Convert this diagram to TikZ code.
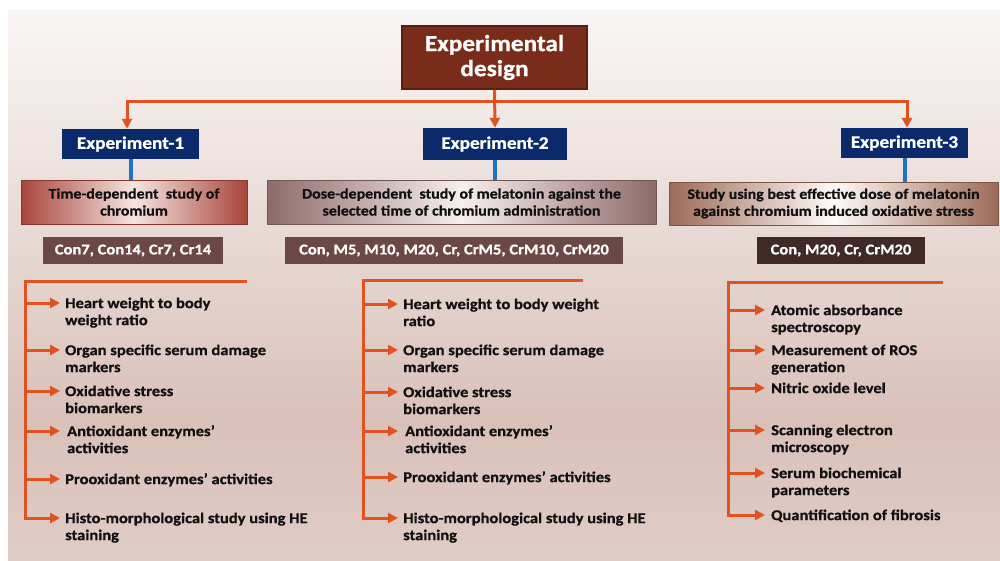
\documentclass[tikz,border=0pt]{standalone}
\usepackage{fontspec}
\setmainfont{Carlito}[FakeStretch=1.1, BoldFeatures={FakeBold=0.8}]
\usetikzlibrary{arrows.meta,calc}
\definecolor{orng}{HTML}{E0531E}
\definecolor{navy}{HTML}{0B2A6B}
\definecolor{bluel}{HTML}{1B75C4}
\definecolor{titlef}{HTML}{7A2C1A}
\definecolor{titled}{HTML}{5A1E10}
\definecolor{grpA}{HTML}{6B4846}
\definecolor{grpC}{HTML}{3F2A28}
\definecolor{sAedge}{HTML}{A8453C}
\definecolor{sAmid}{HTML}{F6E4E0}
\definecolor{sBedge}{HTML}{8E6A6A}
\definecolor{sBmid}{HTML}{F7EFED}
\definecolor{sCedge}{HTML}{9C6A58}
\definecolor{sCmid}{HTML}{FFFAF8}
\definecolor{bgtop}{HTML}{F9F6F5}
\definecolor{bgmid}{HTML}{D9C1B9}
\definecolor{bgbot}{HTML}{DFCCC6}
\definecolor{txt}{HTML}{111111}
\tikzset{
  titlebox/.style={draw=titled, line width=1.5pt, fill=titlef, text=white,
    font=\fontsize{23}{25}\selectfont\bfseries, align=center, inner sep=0pt},
  expbox/.style={fill=navy, text=white, font=\fontsize{17.5}{19}\selectfont\bfseries, inner sep=0pt},
  studybox/.style={inner sep=0pt, align=center, text=txt, font=\fontsize{14.5}{17}\selectfont\bfseries, line width=1pt},
  grpbox/.style={inner sep=0pt, text=white, font=\fontsize{15}{17}\selectfont\bfseries},
  itemtext/.style={anchor=north west, inner sep=0pt, align=left, text=txt, font=\fontsize{15}{17}\selectfont\bfseries},
  oline/.style={draw=orng, line width=3pt},
  oarr/.style={draw=orng, line width=3pt, -{Triangle[length=10pt,width=10pt]}},
  bline/.style={draw=bluel, line width=4pt}
}
\begin{document}
\begin{tikzpicture}[x=1pt,y=-1pt]
\useasboundingbox (0,0) rectangle (1000,560);
\fill[white] (0,0) rectangle (1000,560);
\shade[top color=bgtop, bottom color=bgmid] (8,10) rectangle (1000,420);
\shade[top color=bgmid, bottom color=bgbot] (8,420) rectangle (1000,560);

% title and experiments
\node[titlebox, minimum width=185, minimum height=63] (title) at (494.5,57.5) {Experimental\\design};
\node[expbox, minimum width=137, minimum height=30] (e1) at (130.5,144) {Experiment-1};
\node[expbox, minimum width=144, minimum height=32] (e2) at (495,144) {Experiment-2};
\node[expbox, minimum width=127, minimum height=30] (e3) at (904.5,143) {Experiment-3};

% study boxes
\node[studybox, draw=sAedge!80!black, left color=sAedge, right color=sAedge, middle color=sAmid,
      minimum width=226, minimum height=44] (s1) at (134,202) {Time-dependent\ \ study of\\chromium};
\node[studybox, draw=sBedge!80!black, left color=sBedge, right color=sBedge, middle color=sBmid,
      minimum width=389, minimum height=44] (s2) at (461.5,202) {Dose-dependent\ \ study of melatonin against the\\selected time of chromium administration};
\node[studybox, draw=sCedge!80!black, left color=sCedge, right color=sCedge, middle color=sCmid,
      minimum width=329, minimum height=43] (s3) at (833.5,203.5) {Study using best effective dose of melatonin\\against chromium induced oxidative stress};

% group boxes
\node[grpbox, fill=grpA, minimum width=180, minimum height=27] (g1) at (133,250.5) {Con7, Con14, Cr7, Cr14};
\node[grpbox, fill=grpA, minimum width=338, minimum height=27] (g2) at (454,250.5) {Con, M5, M10, M20, Cr, CrM5, CrM10, CrM20};
\node[grpbox, fill=grpC, minimum width=168, minimum height=27] (g3) at (841,250.5) {Con, M20, Cr, CrM20};

% top connectors
\coordinate (hub) at (494.5,101);
\draw[oarr] (title.south) -- (e2.north);
\draw[oarr] (hub) -| ([xshift=-3.5]e1.north);
\draw[oarr] (hub) -| ([xshift=2.5]e3.north);

% blue connectors
\draw[bline] (e1.south) -- (e1.south |- s1.north);
\draw[bline] (e2.south) -- (e2.south |- s2.north);
\draw[bline] (e3.south) -- (e3.south |- s3.north);

% ---------- column 1 ----------
\coordinate (t1) at (25,281);
\coordinate (t1e) at (247,281);
\foreach \n/\y in {1/303,2/350,3/391,4/431,5/479,6/518}{
  \coordinate (a1\n) at (60,\y);
}
\node[itemtext] (i11) at (65,296) {\strut Heart weight to body\\weight ratio};
\node[itemtext] (i12) at (65,343) {\strut Organ specific serum damage\\markers};
\node[itemtext] (i13) at (65,384) {\strut Oxidative stress\\biomarkers};
\node[itemtext] (i14) at (67,424) {\strut Antioxidant enzymes’\\activities};
\node[itemtext] (i15) at (65,472) {\strut Prooxidant enzymes’ activities};
\node[itemtext] (i16) at (65,511) {\strut Histo-morphological study using HE\\staining};
\draw[oline] (t1e) -- (t1) -- (t1 |- a16) -- ++(10,0);
\foreach \n in {1,...,6}{ \draw[oarr] (t1 |- a1\n) -- (a1\n); }

% ---------- column 2 ----------
\coordinate (t2) at (363,280);
\coordinate (t2e) at (583,280);
\foreach \n/\y in {1/304,2/350,3/392,4/431,5/477,6/518}{
  \coordinate (a2\n) at (398,\y);
}
\node[itemtext] (i21) at (403,297) {\strut Heart weight to body weight\\ratio};
\node[itemtext] (i22) at (403,343) {\strut Organ specific serum damage\\markers};
\node[itemtext] (i23) at (403,385) {\strut Oxidative stress\\biomarkers};
\node[itemtext] (i24) at (405,424) {\strut Antioxidant enzymes’\\activities};
\node[itemtext] (i25) at (403,470) {\strut Prooxidant enzymes’ activities};
\node[itemtext] (i26) at (403,511) {\strut Histo-morphological study using HE\\staining};
\draw[oline] (t2e) -- (t2) -- (t2 |- a26) -- ++(10,0);
\foreach \n in {1,...,6}{ \draw[oarr] (t2 |- a2\n) -- (a2\n); }

% ---------- column 3 ----------
\coordinate (t3) at (728,282);
\coordinate (t3e) at (943,282);
\foreach \n/\y in {1/310,2/350,3/388,4/430,5/473,6/515}{
  \coordinate (a3\n) at (765,\y);
}
\node[itemtext] (i31) at (771,303) {\strut Atomic absorbance\\spectroscopy};
\node[itemtext] (i32) at (771,343) {\strut Measurement of ROS\\generation};
\node[itemtext] (i33) at (771,381) {\strut Nitric oxide level};
\node[itemtext] (i34) at (771,423) {\strut Scanning electron\\microscopy};
\node[itemtext] (i35) at (771,466) {\strut Serum biochemical\\parameters};
\node[itemtext] (i36) at (771,508) {\strut Quantification of fibrosis};
\draw[oline] (t3e) -- (t3) -- (t3 |- a36) -- ++(10,0);
\foreach \n in {1,...,6}{ \draw[oarr] (t3 |- a3\n) -- (a3\n); }
\end{tikzpicture}
\end{document}
